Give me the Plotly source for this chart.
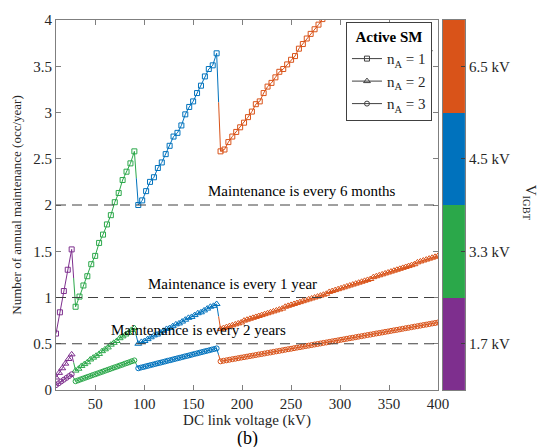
import bisect
import plotly.graph_objects as go

# IGBT voltage classes shown in the V_IGBT colour bar
IGBT_CLASSES = ["1.7 kV", "3.3 kV", "4.5 kV", "6.5 kV"]
IGBT_COLORS = ["#7E2F8E", "#2BA84A", "#0072BD", "#D95319"]
# DC link voltage (kV) at which the selected IGBT class steps up
CLASS_LIMITS_KV = [28, 92, 176]

# Annual maintenance, n_A = 1 active spare sub-module
VDC_NA1 = [10, 14, 18, 22, 26,
           30, 34, 38, 42, 46, 50, 54, 58, 62, 66, 70, 74, 78, 82, 86, 90,
           94, 98, 102, 106, 110, 114, 118, 122, 126, 130, 134, 138, 142, 146, 150,
           154, 158, 162, 166, 170, 174,
           178, 182, 186, 190, 194, 198, 202, 206, 210, 214, 218, 222, 226, 230,
           234, 238, 242, 246, 250, 254, 258, 262, 266, 270, 274, 278, 282, 286]
MAINT_NA1 = [0.61, 0.84, 1.07, 1.30, 1.52,
             0.90, 1.01, 1.13, 1.23, 1.36, 1.45, 1.59, 1.68, 1.79, 1.89, 2.03, 2.13,
             2.27, 2.36, 2.45, 2.58,
             2.00, 2.05, 2.15, 2.25, 2.30, 2.40, 2.46, 2.55, 2.64, 2.74, 2.78, 2.86,
             2.98, 3.06, 3.12, 3.21, 3.29, 3.39, 3.47, 3.51, 3.64,
             2.58, 2.60, 2.68, 2.74, 2.79, 2.84, 2.89, 2.95, 3.01, 3.09, 3.12, 3.21,
             3.28, 3.32, 3.38, 3.44, 3.47, 3.52, 3.57, 3.61, 3.69, 3.74, 3.80, 3.85,
             3.90, 3.95, 4.01, 4.07]

# Annual maintenance, n_A = 2
VDC_NA2 = [10, 13.2, 16.4, 19.6, 22.8, 26,
           30, 33, 36, 39, 42, 45, 48, 51, 54, 57, 60, 63, 66, 69, 72, 75, 78, 81,
           84, 87, 90,
           94, 97.2, 100.4, 103.6, 106.8, 110, 113.2, 116.4, 119.6, 122.8, 126,
           129.2, 132.4, 135.6, 138.8, 142, 145.2, 148.4, 151.6, 154.8, 158, 161.2,
           164.4, 167.6, 170.8, 174,
           178, 181, 184, 187, 190, 193, 196, 199, 202, 205, 208, 211, 214, 217, 220,
           223, 226, 229, 232, 235, 238, 241, 244, 247, 250, 253, 256, 259, 262, 265,
           268, 271, 274, 277, 280, 283, 286, 289, 292, 295, 298, 301, 304, 307, 310,
           313, 316, 319, 322, 325, 328, 331, 334, 337, 340, 343, 346, 349, 352, 355,
           358, 361, 364, 367, 370, 373, 376, 379, 382, 385, 388, 391, 394, 397, 400]
MAINT_NA2 = [0.135, 0.185, 0.235, 0.285, 0.335, 0.385,
             0.21, 0.23, 0.26, 0.28, 0.30, 0.33, 0.35, 0.37, 0.39, 0.42, 0.44, 0.46,
             0.49, 0.51, 0.53, 0.56, 0.58, 0.60, 0.62, 0.65, 0.67,
             0.50, 0.52, 0.53, 0.55, 0.57, 0.59, 0.60, 0.62, 0.64, 0.66, 0.67, 0.69,
             0.71, 0.72, 0.74, 0.76, 0.78, 0.79, 0.81, 0.83, 0.84, 0.86, 0.88, 0.90,
             0.91, 0.93,
             0.66, 0.67, 0.68, 0.69, 0.70, 0.71, 0.72, 0.73, 0.75, 0.76, 0.77, 0.78,
             0.79, 0.80, 0.81, 0.82, 0.83, 0.84, 0.85, 0.86, 0.87, 0.88, 0.90, 0.91,
             0.92, 0.93, 0.94, 0.95, 0.96, 0.97, 0.98, 0.99, 1.00, 1.01, 1.02, 1.03,
             1.04, 1.06, 1.07, 1.08, 1.09, 1.10, 1.11, 1.12, 1.13, 1.14, 1.15, 1.16,
             1.17, 1.18, 1.19, 1.20, 1.22, 1.23, 1.24, 1.25, 1.26, 1.27, 1.28, 1.29,
             1.30, 1.31, 1.32, 1.33, 1.34, 1.35, 1.36, 1.38, 1.39, 1.40, 1.41, 1.42,
             1.43, 1.44, 1.45]

# Annual maintenance, n_A = 3
VDC_NA3 = [10, 12.7, 15.3, 18, 20.7, 23.3, 26,
           30, 32.5, 35, 37.5, 40, 42.5, 45, 47.5, 50, 52.5, 55, 57.5, 60, 62.5, 65,
           67.5, 70, 72.5, 75, 77.5, 80, 82.5, 85, 87.5, 90,
           94, 96.5, 99, 101.5, 104, 106.5, 109, 111.5, 114, 116.5, 119, 121.5, 124,
           126.5, 129, 131.5, 134, 136.5, 139, 141.5, 144, 146.5, 149, 151.5, 154,
           156.5, 159, 161.5, 164, 166.5, 169, 171.5, 174,
           178, 181, 184, 187, 190, 193, 196, 199, 202, 205, 208, 211, 214, 217, 220,
           223, 226, 229, 232, 235, 238, 241, 244, 247, 250, 253, 256, 259, 262, 265,
           268, 271, 274, 277, 280, 283, 286, 289, 292, 295, 298, 301, 304, 307, 310,
           313, 316, 319, 322, 325, 328, 331, 334, 337, 340, 343, 346, 349, 352, 355,
           358, 361, 364, 367, 370, 373, 376, 379, 382, 385, 388, 391, 394, 397, 400]
MAINT_NA3 = [0.053, 0.072, 0.092, 0.111, 0.131, 0.150, 0.170,
             0.095, 0.104, 0.114, 0.123, 0.133, 0.142, 0.151, 0.161, 0.170, 0.179,
             0.189, 0.198, 0.208, 0.217, 0.226, 0.236, 0.245, 0.254, 0.264, 0.273,
             0.283, 0.292, 0.301, 0.311, 0.320,
             0.235, 0.242, 0.248, 0.255, 0.262, 0.269, 0.275, 0.282, 0.289, 0.295,
             0.302, 0.309, 0.316, 0.322, 0.329, 0.336, 0.343, 0.349, 0.356, 0.363,
             0.369, 0.376, 0.383, 0.390, 0.396, 0.403, 0.410, 0.417, 0.423, 0.430,
             0.437, 0.443, 0.450,
             0.310, 0.316, 0.321, 0.327, 0.333, 0.338, 0.344, 0.350, 0.355, 0.361,
             0.367, 0.372, 0.378, 0.384, 0.389, 0.395, 0.401, 0.406, 0.412, 0.418,
             0.423, 0.429, 0.435, 0.441, 0.446, 0.452, 0.458, 0.463, 0.469, 0.475,
             0.480, 0.486, 0.492, 0.497, 0.503, 0.509, 0.514, 0.520, 0.526, 0.531,
             0.537, 0.543, 0.548, 0.554, 0.560, 0.565, 0.571, 0.577, 0.582, 0.588,
             0.594, 0.599, 0.605, 0.611, 0.616, 0.622, 0.628, 0.633, 0.639, 0.645,
             0.650, 0.656, 0.662, 0.668, 0.673, 0.679, 0.685, 0.690, 0.696, 0.702,
             0.707, 0.713, 0.719, 0.724, 0.730]

# Maintenance-interval reference levels (occ/year) and their captions
THRESHOLDS = [2, 1, 0.5]
THRESHOLD_TEXT = ["Maintenance is every 6 months",
                  "Maintenance is every 1 year",
                  "Maintenance is every 2 years"]

SERIES_NAMES = ["n<sub>A</sub> = 1", "n<sub>A</sub> = 2", "n<sub>A</sub> = 3"]

for xs_, ys_ in [(VDC_NA1, MAINT_NA1), (VDC_NA2, MAINT_NA2), (VDC_NA3, MAINT_NA3)]:
    assert len(xs_) == len(ys_)

FONT = "Liberation Serif"
TEXT = "#262626"
AXIS = "#7f7f7f"


def split_by_class(vdc, maint):
    """Group consecutive points by the IGBT class used at that DC voltage."""
    runs = []
    for v, m in zip(vdc, maint):
        k = bisect.bisect(CLASS_LIMITS_KV, v)
        if not runs or runs[-1][0] != k:
            runs.append((k, [], []))
        runs[-1][1].append(v)
        runs[-1][2].append(m)
    return runs


fig = go.Figure()

styles = [("square-open", 5), ("triangle-up-open", 6), ("circle-open", 5)]
for (vdc, maint), (sym, size) in zip(
        [(VDC_NA1, MAINT_NA1), (VDC_NA2, MAINT_NA2), (VDC_NA3, MAINT_NA3)], styles):
    runs = split_by_class(vdc, maint)
    for i, (k, xs, ys) in enumerate(runs):
        lx, ly = list(xs), list(ys)
        # the jump to the neighbouring class is shared half/half between colours
        if i > 0:
            px, py = runs[i - 1][1][-1], runs[i - 1][2][-1]
            lx.insert(0, (px + xs[0]) / 2)
            ly.insert(0, (py + ys[0]) / 2)
        if i < len(runs) - 1:
            nx, ny = runs[i + 1][1][0], runs[i + 1][2][0]
            lx.append((xs[-1] + nx) / 2)
            ly.append((ys[-1] + ny) / 2)
        fig.add_trace(go.Scatter(x=lx, y=ly, mode="lines",
                                 line=dict(color=IGBT_COLORS[k], width=1),
                                 showlegend=False, hoverinfo="skip"))
        fig.add_trace(go.Scatter(x=xs, y=ys, mode="markers",
                                 marker=dict(symbol=sym, size=size, color=IGBT_COLORS[k],
                                             line=dict(width=1)),
                                 showlegend=False))

# legend entries (neutral colour, one per n_A)
for name, (sym, size) in zip(SERIES_NAMES, styles):
    fig.add_trace(go.Scatter(x=[None], y=[None], mode="lines+markers", name=name,
                             line=dict(color="#404040", width=1),
                             marker=dict(symbol=sym, size=size, color="#404040",
                                         line=dict(width=1))))

# V_IGBT colour bar as a one-column heatmap on its own axes
n = len(IGBT_COLORS)
scale = []
for i, c in enumerate(IGBT_COLORS):
    scale += [[i / n, c], [(i + 1) / n, c]]
fig.add_trace(go.Heatmap(x=[0], y=IGBT_CLASSES, z=[[i] for i in range(n)],
                         colorscale=scale, zmin=-0.5, zmax=n - 0.5, showscale=False,
                         xaxis="x2", yaxis="y2", hoverinfo="skip"))

for level in THRESHOLDS:
    fig.add_hline(y=level, line=dict(color="#404040", width=1, dash="10px,6px"))

label_x = [261, 190, 155]
for level, text, xc in zip(THRESHOLDS, THRESHOLD_TEXT, label_x):
    fig.add_annotation(x=xc, y=level, text=text, showarrow=False, yanchor="bottom",
                       yshift=4, font=dict(family=FONT, size=15, color="black"))

axis_common = dict(showline=True, linecolor=AXIS, linewidth=1, mirror="allticks",
                   ticks="inside", ticklen=5, tickcolor=AXIS, showgrid=False,
                   zeroline=False, tickfont=dict(family=FONT, size=15, color=TEXT))

fig.update_layout(
    width=540, height=447,
    margin=dict(l=56, r=75, t=15, b=57),
    paper_bgcolor="white", plot_bgcolor="white",
    xaxis=dict(domain=[0, 0.934], range=[10, 400], dtick=50,
               title=dict(text="DC link voltage (kV)", standoff=0,
                          font=dict(family=FONT, size=15, color=TEXT)),
               **axis_common),
    yaxis=dict(range=[0, 4], dtick=0.5,
               title=dict(text="Number of annual maintenance (occ/year)", standoff=8,
                          font=dict(family=FONT, size=13, color=TEXT)),
               **axis_common),
    xaxis2=dict(domain=[0.946, 1], range=[-0.5, 0.5], anchor="y2", showline=True,
                linecolor=AXIS, mirror=True, showticklabels=False, ticks="",
                showgrid=False, zeroline=False),
    yaxis2=dict(anchor="x2", side="right", range=[-0.5, n - 0.5], showline=True,
                linecolor=AXIS, mirror=True, ticks="inside", ticklen=4,
                tickcolor="#404040", showgrid=False, zeroline=False,
                tickfont=dict(family=FONT, size=15, color=TEXT)),
    legend=dict(x=0.709, y=0.995, xanchor="left", yanchor="top",
                bgcolor="white", bordercolor="#404040", borderwidth=1,
                font=dict(family=FONT, size=15, color=TEXT),
                title=dict(text="<b>Active SM</b>", side="top center",
                           font=dict(family=FONT, size=15, color="black")),
                tracegroupgap=0, itemwidth=30),
    showlegend=True,
)

# rule separating the legend title from its entries
fig.add_shape(type="line", xref="paper", yref="paper", x0=0.709, x1=0.921,
              y0=0.917, y1=0.917, line=dict(color="#404040", width=1))

fig.add_annotation(xref="paper", yref="paper", x=1.185, y=0.507,
                   text="V<sub>IGBT</sub>", textangle=90, showarrow=False,
                   font=dict(family=FONT, size=15, color=TEXT))
fig.add_annotation(xref="paper", yref="paper", x=0.469, y=-0.13, text="(b)",
                   showarrow=False, yanchor="middle",
                   font=dict(family=FONT, size=18, color="black"))

fig.write_html("out.html")
